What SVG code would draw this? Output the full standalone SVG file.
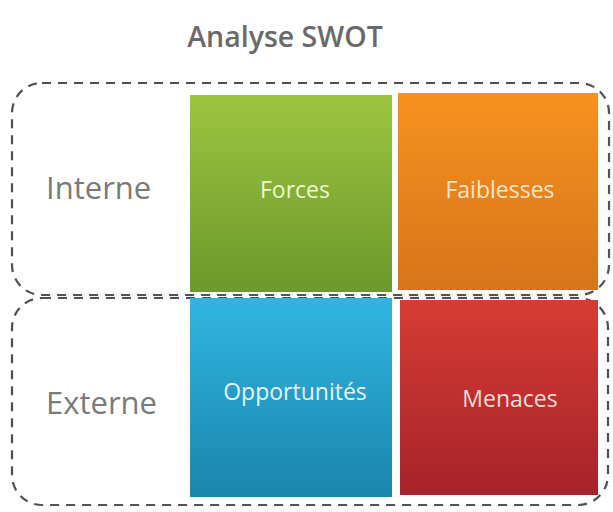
<svg xmlns="http://www.w3.org/2000/svg" width="613" height="512" viewBox="0 0 613 512">
  <style>
    .title { font-family: "Open Sans", "Noto Sans", sans-serif; font-size: 28.5px; fill: #6a6a6a; font-weight: 600; }
    .side { font-family: "Open Sans", "Noto Sans", sans-serif; font-size: 31px; fill: #7a7a7a; }
    .cell { font-family: "Open Sans", "Noto Sans", sans-serif; font-size: 23px; text-anchor: middle; }
    .group { fill: none; stroke: #505058; stroke-width: 2.2; stroke-dasharray: 9 7; }
  </style>
  <defs>
    <linearGradient id="gGreen" x1="0" y1="0" x2="0" y2="1">
      <stop offset="0" stop-color="#9cc63f"/>
      <stop offset="1" stop-color="#6c982c"/>
    </linearGradient>
    <linearGradient id="gOrange" x1="0" y1="0" x2="0" y2="1">
      <stop offset="0" stop-color="#f7921f"/>
      <stop offset="1" stop-color="#d8741b"/>
    </linearGradient>
    <linearGradient id="gBlue" x1="0" y1="0" x2="0" y2="1">
      <stop offset="0" stop-color="#31b5e2"/>
      <stop offset="1" stop-color="#1a85ad"/>
    </linearGradient>
    <linearGradient id="gRed" x1="0" y1="0" x2="0" y2="1">
      <stop offset="0" stop-color="#d63c33"/>
      <stop offset="1" stop-color="#a6232a"/>
    </linearGradient>
  </defs>

  <rect width="613" height="512" fill="#ffffff"/>

  <g id="title">
    <text class="title" x="285" y="47" text-anchor="middle">Analyse SWOT</text>
  </g>

  <!-- dashed frames grouping the two rows -->
  <g id="connectors">
    <rect class="group" x="12" y="83" width="597" height="212" rx="30" ry="30"/>
    <rect class="group" x="12" y="298" width="596" height="207" rx="30" ry="30"/>
  </g>

  <g id="interne">
    <text class="side" x="46" y="199">Interne</text>
  </g>
  <g id="externe">
    <text class="side" x="46" y="414">Externe</text>
  </g>

  <g id="forces">
    <rect x="190" y="95" width="202" height="197" fill="url(#gGreen)"/>
    <text class="cell" x="295" y="198" fill="#eef7cf">Forces</text>
  </g>
  <g id="faiblesses">
    <rect x="398" y="93" width="200" height="197" fill="url(#gOrange)"/>
    <text class="cell" x="500" y="198" fill="#fbe6cc">Faiblesses</text>
  </g>
  <g id="opportunites">
    <rect x="190" y="298" width="202" height="199" fill="url(#gBlue)"/>
    <text class="cell" x="295" y="400" fill="#e6f6fc">Opportunités</text>
  </g>
  <g id="menaces">
    <rect x="400" y="300" width="198" height="195" fill="url(#gRed)"/>
    <text class="cell" x="510" y="407" fill="#f8dcdc">Menaces</text>
  </g>
</svg>
